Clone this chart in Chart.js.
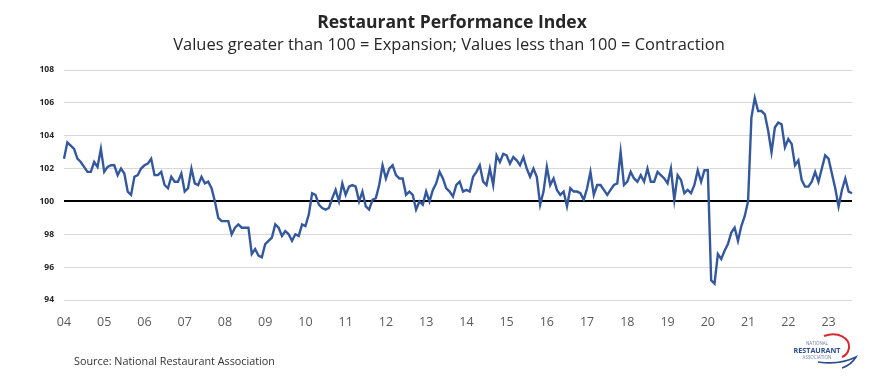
<!DOCTYPE html>
<html>
<head>
<meta charset="utf-8">
<script src="https://cdn.jsdelivr.net/npm/chart.js@4.4.0/dist/chart.umd.min.js"></script>
<style>
  html, body { margin: 0; padding: 0; background: #fff; }
  #wrap { position: relative; width: 889px; height: 389px; overflow: hidden; font-family: "Open Sans", sans-serif; }
  #chart { position: absolute; left: 0; top: 0; }
  .txt { position: absolute; white-space: nowrap; color: #262626; line-height: 1; }
  #title { font-weight: bold; font-size: 16px; }
  #subtitle { font-size: 14px; }
  #source { font-size: 10px; color: #333; }
  #logo { position: absolute; left: 780px; top: 328px; }
</style>
</head>
<body>
<div id="wrap">
  <canvas id="chart" width="889" height="389"></canvas>
  <div id="title" class="txt">Restaurant Performance Index</div>
  <div id="subtitle" class="txt">Values greater than 100 = Expansion; Values less than 100 = Contraction</div>
  <div id="source" class="txt">Source: National Restaurant Association</div>
  <svg id="logo" width="100" height="45" viewBox="780 328 100 45">
    <path d="M824 336 C838 331 850 338 849 348 C848 353 845 356 842 357" fill="none" stroke="#d8282f" stroke-width="2"/>
    <path d="M818 362 C832 364 846 362 856 357 C853 362 848 366 842 368" fill="none" stroke="#2b4c8c" stroke-width="1.6"/>
    <text x="817" y="345" text-anchor="middle" font-family="Open Sans" font-size="4.5" fill="#6b7fa8">NATIONAL</text>
    <text x="817" y="352.5" text-anchor="middle" font-family="Open Sans" font-weight="bold" font-size="7.2" fill="#2b4c8c">RESTAURANT</text>
    <text x="817" y="359" text-anchor="middle" font-family="Open Sans" font-size="4.5" fill="#6b7fa8">ASSOCIATION</text>
  </svg>
</div>
<script>
// year tick labels (one per January)
const yearLabels = ['04', '05', '06', '07', '08', '09', '10', '11', '12', '13',
  '14', '15', '16', '17', '18', '19', '20', '21', '22', '23'];

// monthly Restaurant Performance Index, Jan 2004 onwards
const rpiValues = [
  102.6, 103.6, 103.4, 103.2, 102.6, 102.4, 102.1, 101.8, 101.8, 102.4, 102.1, 103.2,
  101.8, 102.1, 102.2, 102.2, 101.6, 102.0, 101.7, 100.6, 100.4, 101.5, 101.6, 102.0,
  102.2, 102.3, 102.6, 101.6, 101.6, 101.8, 101.0, 100.8, 101.5, 101.2, 101.2, 101.7,
  100.6, 100.8, 102.0, 101.1, 101.0, 101.5, 101.1, 101.2, 100.8, 100.0, 99.0, 98.8,
  98.8, 98.8, 98.0, 98.4, 98.6, 98.4, 98.4, 98.4, 96.8, 97.1, 96.7, 96.6,
  97.4, 97.6, 97.8, 98.6, 98.4, 97.9, 98.2, 98.0, 97.6, 98.0, 97.9, 98.6,
  98.5, 99.2, 100.5, 100.4, 99.8, 99.6, 99.5, 99.6, 100.2, 100.7, 100.0, 101.1,
  100.4, 100.9, 101.0, 100.9, 100.0, 100.6, 99.7, 99.5, 100.1, 100.2, 101.0, 102.2,
  101.4, 102.0, 102.2, 101.6, 101.4, 101.4, 100.4, 100.6, 100.4, 99.5, 100.0, 99.8,
  100.6, 100.0, 100.7, 101.1, 101.8, 101.4, 100.8, 100.6, 100.3, 101.0, 101.2, 100.6,
  100.7, 100.6, 101.5, 101.8, 102.2, 101.2, 101.0, 102.0, 101.0, 102.8, 102.4, 102.9,
  102.8, 102.3, 102.7, 102.5, 102.2, 102.7, 102.0, 101.5, 102.0, 101.5, 99.8, 100.6,
  102.1, 101.0, 101.4, 100.7, 100.4, 100.6, 99.7, 100.8, 100.6, 100.6, 100.5, 100.1,
  100.8, 101.8, 100.4, 101.0, 101.0, 100.7, 100.4, 100.7, 101.0, 101.1, 103.0, 101.0,
  101.2, 101.8, 101.4, 101.2, 101.6, 101.2, 102.0, 101.2, 101.2, 101.8, 101.6, 101.4,
  101.1, 102.0, 100.1, 101.6, 101.3, 100.5, 100.7, 100.5, 101.0, 101.9, 101.2, 101.9,
  101.9, 95.2, 95.0, 96.8, 96.5, 97.0, 97.4, 98.1, 98.4, 97.6, 98.5, 99.1,
  100.0, 105.1, 106.3, 105.5, 105.5, 105.3, 104.3, 103.0, 104.5, 104.8, 104.7, 103.3,
  103.8, 103.5, 102.2, 102.5, 101.3, 100.9, 100.9, 101.2, 101.8, 101.2, 102.0, 102.8,
  102.6, 101.7, 100.8, 99.7, 100.7, 101.4, 100.6, 100.5
];

// one category per month, label only on January
const monthLabels = rpiValues.map((v, i) => (i % 12 === 0 ? yearLabels[i / 12] : ''));

// place a text block: fit it to the width it takes in the reference
function placeText(id, centerX, centerY, targetWidth) {
    const el = document.getElementById(id);
    const w = el.getBoundingClientRect().width;
    const size = parseFloat(getComputedStyle(el).fontSize);
    el.style.fontSize = (size * targetWidth / w).toFixed(2) + 'px';
    const r = el.getBoundingClientRect();
    el.style.left = (centerX - r.width / 2) + 'px';
    el.style.top = (centerY - r.height / 2) + 'px';
}

placeText('title', 452, 22, 270);
placeText('subtitle', 449, 44, 552);
placeText('source', 174.5, 361, 201);

const ctx = document.getElementById('chart');
new Chart(ctx, {
    type: 'line',
    data: {
        labels: monthLabels,
        datasets: [{
            data: rpiValues,
            borderColor: '#34589c',
            borderWidth: 2.4,
            pointRadius: 0,
            tension: 0,
            fill: false,
        }],
    },
    options: {
        responsive: false,
        animation: false,
        layout: {
            padding: { top: 70, right: 37, bottom: 59, left: 1 },
        },
        plugins: {
            legend: { display: false },
            tooltip: { enabled: false },
        },
        scales: {
            x: {
                grid: { display: false },
                border: { display: false },
                ticks: {
                    autoSkip: false,
                    maxRotation: 0,
                    minRotation: 0,
                    padding: 7,
                    color: '#595959',
                    font: { family: 'Open Sans', size: 12.5 },
                },
                afterFit: (scale) => { scale.height = 30; },
            },
            y: {
                min: 94,
                max: 108,
                border: { display: false },
                grid: {
                    drawTicks: false,
                    color: (c) => (c.tick.value === 100 ? '#000000' : '#d9d9d9'),
                    lineWidth: (c) => (c.tick.value === 100 ? 2 : 1),
                },
                ticks: {
                    stepSize: 2,
                    padding: 10,
                    color: '#262626',
                    font: { family: 'Open Sans', size: 8.5, weight: 'bold' },
                },
                afterFit: (scale) => { scale.width = 63; },
            },
        },
    },
});
</script>
</body>
</html>
